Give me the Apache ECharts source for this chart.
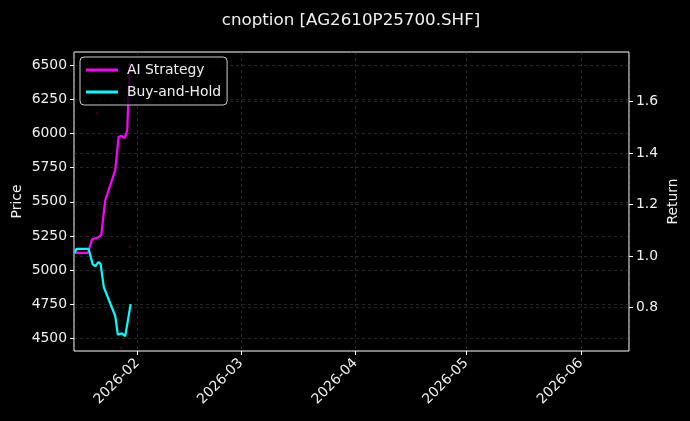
<!DOCTYPE html>
<html>
<head>
<meta charset="utf-8">
<script src="https://cdn.jsdelivr.net/npm/echarts@6/dist/echarts.min.js"></script>
<style>
  html, body { margin: 0; padding: 0; background: #000; }
  #chart { width: 690px; height: 421px; }
</style>
</head>
<body>
<div id="chart"></div>
<script>
'use strict';

var chartTitle = 'cnoption [AG2610P25700.SHF]';

// AI Strategy cumulative return
var aiTimes = [
  '2026-01-15 00:00', '2026-01-18 14:00', '2026-01-19 16:00', '2026-01-21 06:00',
  '2026-01-22 04:00', '2026-01-23 06:00', '2026-01-25 23:00', '2026-01-26 21:00',
  '2026-01-27 14:00', '2026-01-28 12:00', '2026-01-29 05:00', '2026-01-29 14:00',
  '2026-01-29 22:00'
];
var aiReturns = [1.013, 1.013, 1.065, 1.072, 1.082, 1.217, 1.333, 1.462, 1.467, 1.457, 1.488, 1.643, 1.751];

// Buy-and-Hold cumulative return
var bhTimes = [
  '2026-01-15 00:00', '2026-01-15 11:00', '2026-01-18 18:00', '2026-01-19 20:00',
  '2026-01-20 13:00', '2026-01-21 11:00', '2026-01-22 00:00', '2026-01-22 21:00',
  '2026-01-25 23:00', '2026-01-26 16:00', '2026-01-27 18:00', '2026-01-28 16:00',
  '2026-01-30 03:00'
];
var bhReturns = [1.013, 1.028, 1.028, 0.969, 0.961, 0.977, 0.969, 0.879, 0.768, 0.695, 0.701, 0.690, 0.814];

// faint trade markers on the price axis
var markTimes = ['2026-01-21 00:00', '2026-01-27 12:00', '2026-01-29 22:00'];
var markPrices = [6150, 4430, 5170];

var priceTicks = [4500, 4750, 5000, 5250, 5500, 5750, 6000, 6250, 6500];
var returnTicks = [0.8, 1.0, 1.2, 1.4, 1.6];

function zip(xs, ys) {
  return xs.map(function(x, i) { return [x, ys[i]]; });
}

var FONT = 'DejaVu Sans';
var TXT = '#f0f0f0';
var gridLine = { show: true, lineStyle: { color: '#5a5a5a', type: [3, 3], width: 0.6, opacity: 0.7 } };

var chart = echarts.init(document.getElementById('chart'));

chart.setOption({
  backgroundColor: '#000',
  animation: false,
  textStyle: { fontFamily: FONT },
  title: {
    text: chartTitle,
    left: 346,
    textAlign: 'center',
    top: 7,
    textStyle: { color: TXT, fontSize: 16.7, fontWeight: 'normal', fontFamily: FONT }
  },
  grid: {
    left: 74, right: 61, top: 52, bottom: 70,
    outerBoundsMode: 'none',
    show: true, borderColor: '#ffffff', borderWidth: 1, backgroundColor: 'transparent'
  },
  legend: {
    left: 80,
    top: 57,
    orient: 'vertical',
    data: ['AI Strategy', 'Buy-and-Hold'],
    icon: 'rect',
    itemWidth: 32,
    itemHeight: 3,
    itemGap: 8,
    padding: [6, 6, 6, 6],
    backgroundColor: 'rgba(0,0,0,0.8)',
    borderColor: '#cccccc',
    borderWidth: 1,
    borderRadius: 4,
    textStyle: { color: TXT, fontSize: 13.9, fontFamily: FONT, padding: [0, 0, 0, 4] }
  },
  xAxis: {
    type: 'time',
    min: '2026-01-14 19:00',
    max: '2026-06-14 01:00',
    splitNumber: 5,
    minInterval: 28 * 86400000,
    axisLine: { show: false },
    axisTick: { show: true, length: 4, lineStyle: { color: '#fff' } },
    axisLabel: {
      color: TXT, fontSize: 13.9, fontFamily: FONT, rotate: 45, margin: 10,
      showMinLabel: false, showMaxLabel: false,
      formatter: '{yyyy}-{MM}'
    },
    splitLine: gridLine
  },
  yAxis: [{
    type: 'value',
    name: 'Price',
    nameLocation: 'middle',
    nameGap: 50,
    nameMoveOverlap: false,
    nameTextStyle: { color: TXT, fontSize: 13.9, fontFamily: FONT },
    min: 4407,
    max: 6597,
    interval: 250,
    axisLine: { show: false },
    axisTick: { show: true, length: 4, lineStyle: { color: '#fff' }, customValues: priceTicks },
    axisLabel: {
      color: TXT, fontSize: 13.9, fontFamily: FONT, margin: 7, customValues: priceTicks,
      formatter: function(v) { return String(v); }
    },
    splitLine: gridLine
  }, {
    type: 'value',
    name: 'Return',
    nameLocation: 'middle',
    nameGap: 37,
    nameMoveOverlap: false,
    nameTextStyle: { color: TXT, fontSize: 13.9, fontFamily: FONT },
    min: 0.6324,
    max: 1.791,
    axisLine: { show: false },
    axisTick: { show: true, length: 4, lineStyle: { color: '#fff' }, customValues: returnTicks },
    axisLabel: {
      color: TXT, fontSize: 13.9, fontFamily: FONT, margin: 7, customValues: returnTicks,
      formatter: function(v) { return v.toFixed(1); }
    },
    splitLine: gridLine
  }],
  series: [{
    name: 'trades',
    type: 'scatter',
    yAxisIndex: 0,
    data: zip(markTimes, markPrices),
    symbolSize: 3,
    itemStyle: { color: '#3a0710' },
    z: 1
  }, {
    name: 'AI Strategy',
    type: 'line',
    yAxisIndex: 1,
    data: zip(aiTimes, aiReturns),
    showSymbol: false,
    symbol: 'none',
    lineStyle: { color: '#ff00ff', width: 2.2 },
    itemStyle: { color: '#ff00ff' }
  }, {
    name: 'Buy-and-Hold',
    type: 'line',
    yAxisIndex: 1,
    data: zip(bhTimes, bhReturns),
    showSymbol: false,
    symbol: 'none',
    lineStyle: { color: '#00ffff', width: 2.2 },
    itemStyle: { color: '#00ffff' }
  }]
});
</script>
</body>
</html>
